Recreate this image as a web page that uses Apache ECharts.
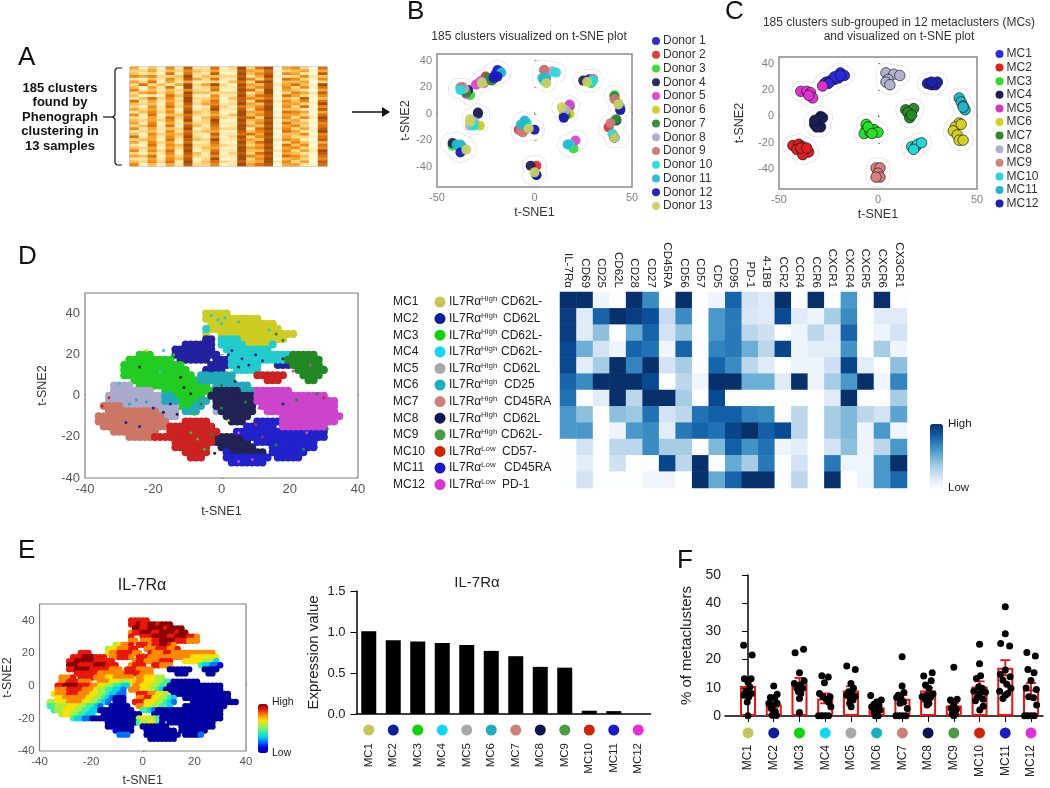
<!DOCTYPE html>
<html><head><meta charset="utf-8">
<style>html,body{margin:0;padding:0;background:#fff}#c{width:1050px;height:788px;filter:blur(0.4px)}</style>
<script src="https://cdn.jsdelivr.net/npm/echarts@6/dist/echarts.min.js"></script></head>
<body><div id="c"></div>
<script>
const FONT='"Liberation Sans",Arial,sans-serif';
const mcNames=['MC1','MC2','MC3','MC4','MC5','MC6','MC7','MC8','MC9','MC10','MC11','MC12'];
const mcDotColors=['#c5c55a','#0a1fa0','#0ad40a','#10d8f8','#a8a8a8','#18b0c0','#cc8078','#0a1450','#4a9a44','#d42408','#1a1ac8','#e030d8'];
const donorNames=['Donor 1','Donor 2','Donor 3','Donor 4','Donor 5','Donor 6','Donor 7','Donor 8','Donor 9','Donor 10','Donor 11','Donor 12','Donor 13'];
const donorColors=['#2222cc','#dd3333','#33dd33','#222255','#dd44cc','#cccc22','#338833','#aaaacc','#cc7777','#22dddd','#22bbcc','#1a1ab8','#c8d060'];
// Panel A: heat levels 0-9, one string per row band
const panelARows=[
"5141628227139379056307","3352436435228547134515","4231717328119468065208","6563349244338259123624",
"2142638537229637076316","5371525123147389044503","3734259359319548257419","4152719236228468063617",
"6242436327119739154205","3563529443338259036528","4121748116229478175316","2473629335148657043804",
"7252539247128389264617","4341628356239548055319","3162737128317469163706","5352518239228379044218",
"2463629436119558176505","6171447325249468055317","3252738147328739263629","4353629239119458045208",
"5161526338228369174416","3472718427129548056307","6252439136339279263518","2341627345118468075219",
"4163548228227759144606","7252639316139368053317","3451728439228549265208","5263517127119479036415",
"2172649336328358174607","4351538245119569056316","6263729137229448263529","3142618428138379054218",
"5471537326229658176407","2252648139119369045316","4363729247328459263508","6141528336129578055217"];
const panelAPalette=['#fffbe0','#fff3c4','#fee8a8','#fdd680','#fcbf58','#f7a432','#ec8a18','#db700c','#c25c08','#a04c08'];
// Panel B: cluster positions per donor
const donorPts=[
[[-19,33],[-18,32],[-29,0],[1,-46],[44,3],[41,-18],[18,6],[28,26],[-20,30]],
[[-37,20],[1,-39],[-8,-12],[38,-10],[5,33],[30,26],[-25,28],[-7,-10]],
[[-33,14],[-40,-24],[-4,-10],[41,-5],[41,14],[29,23],[20,-26],[-23,26],[-42,-24]],
[[-34,18],[-42,-22],[-2,-39],[15,-2],[25,25],[42,-5],[-29,1],[-22,27]],
[[-30,22],[-27,25],[18,7],[21,-20],[-26,23],[-35,15],[-28,24]],
[[-28,-9],[18,0],[15,2],[-30,-8],[6,24],[43,8],[-25,25]],
[[-24,27],[-21,26],[41,13],[16,-1],[-35,16],[42,-4],[-22,25]],
[[-33,-9],[9,32],[16,3],[-36,19],[-31,-6],[-27,24],[7,31]],
[[-6,-14],[5,33],[41,11],[30,26],[39,-7],[-38,20],[-5,-12],[-7,-13]],
[[-38,18],[-31,-9],[-5,-6],[11,31],[18,-23],[40,-15],[30,25],[-4,-7]],
[[-17,31],[4,27],[6,27],[-40,-23],[-37,-25],[17,-23],[44,5],[-5,-5],[-7,-8],[-38,-23],[5,25]],
[[-38,-29],[0,-12],[1,-46],[-21,27],[-20,28],[15,-3],[41,-18],[44,3],[-19,28]],
[[-27,23],[-33,-4],[-35,-27],[-3,-11],[0,-44],[6,23],[14,5],[27,24],[43,7],[41,-18],[-33,-6]]];
// Panel C: cluster positions per metacluster
const mcPts=[
[[-19,33],[-17,31],[-20,29],[-22,28],[-24,27],[-26,26],[-27,25],[-22,30],[-25,25],[-19,31]],
[[-43,-22],[-40,-21],[-38,-23],[-41,-25],[-37,-26],[-35,-27],[-38,-29],[-39,-24],[-36,-24]],
[[-6,-6],[-6,-10],[-7,-13],[-4,-12],[-2,-10],[0,-12],[-5,-8],[-3,-13]],
[[-29,0],[-30,-3],[-32,-6],[-29,-8],[-31,-8],[-28,-1],[-32,-3]],
[[-39,19],[-36,19],[-34,18],[-33,14],[-35,16],[-28,23]],
[[41,-5],[39,-8],[38,-11],[40,-14],[41,-18],[43,-18],[42,-6]],
[[14,5],[18,6],[15,3],[16,-1],[17,1]],
[[4,33],[8,32],[11,31],[5,28],[4,26],[6,24]],
[[-1,-39],[1,-39],[0,-43],[1,-46],[-1,-46]],
[[17,-23],[19,-23],[20,-21],[22,-20],[18,-25]],
[[41,14],[42,11],[43,8],[44,5],[43,7]],
[[25,25],[27,24],[29,24],[30,26],[27,26]]];
const mcTsneColors=['#2a2ae0','#e02020','#28e028','#1c1c58','#e030d0','#d4d020','#2a8a2a','#b0b0d0','#d88080','#20d8d8','#20b8c8','#2020b0'];
const haloPts=mcPts.flat();
// Panel D: event map, run-length rows from y=40 down in 2.5 steps, columns from x=-36 in 1.5 steps
const tsneColors={a:'#cccc22',b:'#2222a0',c:'#22cc22',d:'#22cccc',e:'#aaaacc',f:'#22aabb',g:'#cc7766',h:'#222255',i:'#228822',j:'#cc2222',k:'#2222cc',l:'#cc44cc'};
const mapRows=[
"21. 5a","21. 11a","22. 13a","21. 1d 14a","21. 1a 2. 15a","21. 2b 1. 4d 9a","17. 6b 1. 5d 5a 1d","15. 8b 2. 9d",
"8. 3c 4. 9b 2. 12d 5i","6. 9c 1. 6b 1. 3b 8d 3d 7i","5. 12c 5. 4b 6d 3. 3b 6i","5. 13c 3. 4b 2. 5d 7. 6i",
"5. 14c 1. 7f 4. 6j 3. 4i","7. 13c 7f 6. 3j 5. 2i","3. 4e 1. 14c 1. 7f","3. 8e 2. 10c 5h 3f 7l",
"2. 11e 2f 6c 1. 9h 14l","2. 11e 3f 4c 2f 1. 8h 16l","1. 4g 11e 3c 2f 2. 8h 1. 15l","2. 10g 4e 1. 3f 3. 1e 7h 2. 14l",
"13g 3e 5. 3. 1. 5h 6. 12l","14g 3. 5j 4. 3h 2. 5k 11l","1. 13g 9j 6. 6k 1. 9l","3. 9g 2. 10j 3. 18k",
"6. 5g 12j 6h 16k","15. 8j 7h 1. 12k","15. 7j 2. 7h 3. 9k","17. 5j 3. 1k 7h 1. 7k","18. 3j 4. 9k 1. 5k","26. 7k"];
const speckles=[
[3,22,1],[6,18,1],[8,15,1],[10,20,1],[5,14,7],[12,17,1],[2,20,1],[-1,37,3],[0,35,3],[-3,39,3],[1,38,3],[5,36,3],[16,30,8],[18,27,8],[14,32,3],
[-24,14,7],[-12,9,7],[-18,12,3],[-17,22,3],[-14,20,2],[-21,21,2],[-22,22,0],[-11,4,7],[-9,1,7],[-15,-4,1],[-25,-2,5],[-27,-4,5],[-22,-3,5],[-20,-6,1],[-28,-13,1],[-24,-15,1],
[-17,-8,7],[-10,-6,2],[-8,-9,2],[-13,-9,7],[-6,-4,8],[-9,-18,2],[-7,-21,2],[-5,-26,2],[-3,-19,8],[-2,-28,7],[0,-6,8],[7,-3,8],[2,-12,0],[10,-14,9],[12,-20,9],[5,-18,11],
[11,-6,11],[14,-8,11],[18,-4,7],[22,-2,8],[28,1,8],[30,-1,9],[25,-18,11],[20,-14,11],[27,-12,11],[31,-16,8],[16,-24,8],[24,-26,8],[5,-32,11],[9,-31,11],[18,18,7],[26,15,11],[21,12,11],[30,14,8],[-30,6,3],[-33,-1,9],[-35,-5,9],[4,7,7],[0,5,8],[-3,12,1],[-4,17,7]];
// Panel E: IL-7Ra expression map on the same cells, a=lowest .. j=highest
const exprRows=[
"21. 5i","21. 2i 1j 2i 2j 1i 3j","22. 2j 2i 4j 1i 4j","21. 1h 2i 3j 2i 4j 1i 2j","21. 1i 2. 3i 4j 2i 3j 2i 1h","21. 2h 1. 3h 2i 4j 3i 3h",
"17. 1f 1g 2h 1i 1. 3i 1h 2i 2j 1i 1h","15. 1f 2g 3h 2i 2. 3h 3i 2h 1i","8. 3i 4. 1g 2h 4i 2h 2. 1i 3h 2i 2h 4h 5h","6. 3i 3j 3i 1. 2h 3i 1h 1. 3i 8h 3h 7g",
"5. 2i 5j 5i 5. 1h 2i 1h 3h 3i 3. 3g 2g 3f 1d","5. 3j 4i 3j 3i 3. 1h 3i 2. 2i 3h 7. 1e 2d 2c 1b","5. 2i 4j 5i 3h 1. 3i 4h 4. 6a 3. 4a","7. 6i 4h 3h 4i 3h 6. 3a 5. 2a",
"3. 3h 1i 1. 4i 3h 2g 3h 2h 1. 2h 3g 2f","3. 2h 3i 3h 2. 3h 3g 2f 2g 2h 3g 2f 2e 3a 4a","2. 2i 4j 3i 2h 2g 2f 2e 2d 1. 2h 3g 2f 2e 14a","2. 3h 4i 3h 1g 2f 2e 2d 1c 1. 3h 2g 2f 1e 1d 15a",
"1. 1g 3h 3i 3h 2g 2f 1e 2d 2c 3. 3i 2h 2g 1f 1. 15a","2. 2g 3h 3h 2g 2f 1e 1d 1c 3a 3. 2h 2i 2g 2f 1e 1d 2. 12a","2f 3g 4h 2g 2f 1e 1d 1c 1. 3a 2. 3i 3g 2f 1e 1d 1c 4. 12a","2e 3f 3g 2f 2e 1d 1c 2. 5a 2. 2h 2g 2f 2e 1d 3. 11a",
"1. 1e 2f 3g 2f 2e 2d 9a 2. 2e 1d 1c 17a","3. 1f 2g 2f 2e 2d 2. 10a 3. 18a","6. 1e 2d 2c 12a 1f 2g 2f 1e 16a","15. 8a 1e 2f 2g 1e 1a 1. 12a","15. 7a 2. 7a 3. 9a","17. 1b 4a 3. 8a 1. 7a","18. 3c 4. 9a 1. 4a 1c","26. 7a"];
const jetColors=['#0000a0','#0000f0','#0070ff','#00d8e8','#40f0a0','#a8f040','#f8e000','#ff8800','#e81808','#8c0000'];
// Panel D heat map
const heatMarkers=['IL-7Rα','CD69','CD25','CD62L','CD28','CD27','CD45RA','CD56','CD57','CD5','CD95','PD-1','4-1BB','CCR2','CCR4','CCR6','CXCR1','CXCR4','CXCR5','CXCR6','CX3CR1'];
const heatValues=[
[1,1,.08,0,1,.65,0,1,0,.08,.8,.2,.15,1,0,1,0,.6,0,1,0],
[.95,.15,.8,1,.95,.88,.25,.65,0,.6,.72,.18,.15,.9,.15,.08,.35,.65,0,.15,.15],
[.95,.15,.42,0,.52,.8,.2,.4,0,.6,.72,.28,.22,0,.08,.28,.15,.8,0,.08,.2],
[.9,.5,.2,.08,.8,.75,.06,.8,0,.68,.72,.5,.28,.92,.08,.14,.14,.62,0,.35,.08],
[.9,.14,.35,1,.68,1,.2,.35,0,.8,.65,.28,.15,0,.08,.08,.22,.92,.14,0,.42],
[.8,.65,1,1,1,.9,0,.28,.07,1,1,.5,.5,.15,1,.08,.35,.6,1,.07,.68],
[.75,0,.14,1,.28,1,1,.35,0,.9,0,0,0,0,0,0,.15,1,0,0,.35],
[.6,.42,0,.42,.38,.75,.2,.28,.75,.82,.82,.68,.65,0,.28,0,.35,.45,.28,.2,.55],
[.6,.6,0,.08,.6,.65,.14,.72,.8,.75,.92,1,.82,.9,.28,0,.35,.45,.08,.6,.07],
[0,.2,0,.28,.28,.65,.35,.35,0,.45,.82,.62,.75,.08,.14,0,.2,.42,.08,.28,.6],
[0,.14,0,.22,0,0,.92,.28,1,0,.52,.35,.72,0,.2,0,.72,.07,.07,.6,1],
[0,.2,0,0,0,.07,.07,0,1,.52,.8,1,1,0,.28,0,1,0,.08,.6,.78]];
const bluesRamp=['#fbfdff','#e6eff9','#c6dbef','#9ecae1','#6baed6','#4292c6','#2171b5','#08519c','#08306b'];
const tableLevel=['High','High','High','High','High','High','High','High','High','Low','Low','Low'];
const tableMarker=['CD62L-','CD62L','CD62L-','CD62L-','CD62L','CD25','CD45RA','CD62L','CD62L-','CD57-','CD45RA','PD-1'];
// Panel E bars
const expressionValues=[1.01,.9,.885,.865,.84,.77,.705,.575,.565,.04,.035,0];
// Panel F
const pctMeans=[10.6,4.1,11.8,6.2,9,3,6.1,9,3.7,10.5,17.1,9.4];
const pctErrHigh=[13,5.5,13.5,8,10.5,4,7.5,10,4.5,12.3,19.8,11.7];
const pctErrLow=[8.5,3,10,4.5,7.5,2,4.5,8,3,8.8,14.4,7.2];
const pctDots=[
[[-.17,25.1],[.16,21.6],[-.14,13.2],[.12,13.2],[0,12],[.07,10.3],[-.09,8.6],[.13,8],[-.16,7.4],[.03,6.8],[-.03,5],[0,.1]],
[[0,10.6],[.13,7.7],[-.13,6.6],[.04,6.6],[-.19,4.5],[.13,4.5],[-.03,3.9],[-.1,2.7],[.06,1.5],[-.06,.3],[.1,.2]],
[[-.17,22.4],[.16,23.7],[0,15.3],[.18,12.5],[-.2,11.5],[.03,11],[-.1,9.8],[.13,9.8],[-.04,8.6],[.05,8],[0,6.2],[0,1.2]],
[[-.13,14.3],[.12,13.8],[-.03,11.8],[-.22,8],[-.09,6.8],[.19,6.8],[.04,5.9],[.13,5],[.22,3.3],[-.26,.1],[-.13,.1],[0,.1],[.13,.1]],
[[-.16,17.7],[.17,16.5],[0,11.5],[.1,9.8],[-.09,8.6],[.04,8],[-.16,7.4],[.17,7],[-.03,6.2],[.08,5.7],[-.05,4.5],[.01,3.3]],
[[-.23,7.3],[.18,5.7],[0,5],[-.1,4.2],[.09,3.7],[-.19,3.3],[0,2.7],[.13,2.1],[-.1,1.5],[0,.7],[-.06,.1],[.06,.1]],
[[-.01,21],[-.01,10.6],[.06,8.3],[-.16,7.4],[-.05,6.2],[-.22,6.6],[.04,5],[-.09,4.5],[.19,2.7],[-.25,.1],[-.12,.1],[.01,.1],[.14,.1]],
[[-.17,14.2],[.16,15.3],[.12,12.5],[-.1,11],[.03,9.8],[.19,7.8],[-.04,7.4],[-.23,6.8],[.09,6.6],[-.1,5.7],[.03,4.5],[-.04,3.9]],
[[0,17.3],[-.13,5.7],[.13,5.9],[0,3.9],[-.1,2.7],[.1,2.4],[0,1.5],[-.06,.7],[.06,.7],[0,.1]],
[[0,25.4],[0,18.5],[.04,14.3],[-.12,13.3],[-.03,10.4],[-.22,8.8],[.1,9.8],[.23,8.4],[.01,8],[-.09,6.6],[.14,5.9],[-.16,5.4],[.14,3.5],[.01,2.1]],
[[0,38.7],[0,29.2],[-.18,25.7],[.17,24.8],[0,16.3],[-.19,14.7],[.19,13.9],[-.09,12.7],[.06,11.3],[-.22,8.8],[.22,9.8],[.09,8],[0,7.4],[-.09,6.2]],
[[-.16,22.5],[.17,21.3],[-.12,16.5],[.12,15.3],[0,12.6],[-.19,9.9],[.21,9.4],[-.09,6.8],[.1,6.5],[.22,3.9],[-.25,.1],[-.13,.1],[0,.1],[.13,.1]]];

function decode(rows){const out=[];rows.forEach((r,j)=>{let col=0;r.split(' ').forEach(t=>{const n=parseInt(t),ch=t[t.length-1];for(let k=0;k<n;k++){if(ch!=='.')out.push({x:-36+1.5*col,y:40-2.5*j,ch});col++;}});});return out;}

const grids=[
{left:130,top:67,width:197,height:99,show:true,borderColor:'#999',borderWidth:1},
{left:437,top:54,width:195,height:133,show:true,borderColor:'#8a8a8a',borderWidth:1.5},
{left:779,top:57,width:198,height:132,show:true,borderColor:'#8a8a8a',borderWidth:1.5},
{left:85,top:293,width:273,height:185,show:true,borderColor:'#808080',borderWidth:1.2},
{left:560,top:292,width:347,height:196},
{left:38,top:604,width:208,height:149,show:true,borderColor:'#808080',borderWidth:1.2},
{left:356.5,top:591,width:294,height:123},
{left:725,top:575,width:318,height:141}];
function tsneX(g,min,max,ticks,name,gap,fs,col){return {gridIndex:g,type:'value',min,max,name,nameLocation:'middle',nameGap:gap,nameTextStyle:{fontFamily:FONT,fontSize:12.5,color:'#333'},
 axisLine:{show:false},splitLine:{show:false},axisTick:{show:true,inside:true,length:2,lineStyle:{color:'#888'},customValues:ticks},
 axisLabel:{fontFamily:FONT,fontSize:fs,color:col,margin:5,customValues:ticks,showMinLabel:true,showMaxLabel:true}};}
const tsneY=tsneX;
const xAxes=[
{gridIndex:0,type:'category',data:panelARows[0].split('').map((_,i)=>i),axisLine:{show:false},axisTick:{show:false},axisLabel:{show:false}},
tsneX(1,-50,50,[-50,0,50],'t-SNE1',19,11,'#808080'),
tsneX(2,-50,50,[-50,0,50],'t-SNE1',19,11,'#808080'),
tsneX(3,-40,40,[-40,-20,0,20,40],'t-SNE1',27,13,'#555'),
{gridIndex:4,type:'category',position:'top',data:heatMarkers,axisLine:{show:false},axisTick:{show:false},axisLabel:{rotate:90,fontFamily:FONT,fontSize:11.6,color:'#222',margin:4,interval:0}},
tsneX(5,-40,40,[-40,-20,0,20,40],'t-SNE1',23,11.5,'#555'),
{gridIndex:6,type:'category',data:mcNames,axisLine:{lineStyle:{color:'#000',width:1.5}},axisTick:{alignWithLabel:true,length:6,lineStyle:{color:'#000',width:1}},axisLabel:{rotate:90,fontFamily:FONT,fontSize:11.5,color:'#222',margin:29,interval:0}},
{gridIndex:7,type:'value',min:-.895,max:11.467,splitLine:{show:false},axisLine:{onZero:false,lineStyle:{color:'#000',width:1.5}},axisTick:{length:6,lineStyle:{color:'#000',width:1},customValues:[0,1,2,3,4,5,6,7,8,9,10,11]},
 axisLabel:{fontFamily:FONT,fontSize:12,color:'#222',margin:29,rotate:90,customValues:[0,1,2,3,4,5,6,7,8,9,10,11],formatter:v=>mcNames[v]}}];
const yAxes=[
{gridIndex:0,type:'category',inverse:true,data:panelARows.map((_,i)=>i),axisLine:{show:false},axisTick:{show:false},axisLabel:{show:false}},
tsneY(1,-55,45,[-40,-20,0,20,40],'t-SNE2',21,11,'#808080'),
tsneY(2,-55,45,[-40,-20,0,20,40],'t-SNE2',33,11,'#808080'),
tsneY(3,-40,50,[-40,-20,0,20,40],'t-SNE2',36,13,'#555'),
{gridIndex:4,type:'category',inverse:true,data:mcNames,axisLine:{show:false},axisTick:{show:false},axisLabel:{show:false}},
tsneY(5,-40,50,[-40,-20,0,20,40],'t-SNE2',25,11.5,'#555'),
{gridIndex:6,type:'value',min:0,max:1.5,interval:.5,name:'Expression value',nameLocation:'middle',nameGap:35,nameTextStyle:{fontFamily:FONT,fontSize:15,color:'#222'},splitLine:{show:false},axisLine:{show:true,lineStyle:{color:'#000',width:1.5}},axisTick:{show:true,length:6,lineStyle:{color:'#000',width:1}},axisLabel:{fontFamily:FONT,fontSize:13,color:'#222',margin:11,formatter:v=>v.toFixed(1)}},
{gridIndex:7,type:'value',min:0,max:50,interval:10,offset:-6,name:'% of metaclusters',nameLocation:'middle',nameGap:37,nameTextStyle:{fontFamily:FONT,fontSize:15,color:'#222'},splitLine:{show:false},axisLine:{show:true,lineStyle:{color:'#000',width:1.5}},axisTick:{show:true,length:6,lineStyle:{color:'#000',width:1}},axisLabel:{fontFamily:FONT,fontSize:14,color:'#222',margin:10}}];

const series=[];
const aIdx=series.length;
series.push({type:'heatmap',xAxisIndex:0,yAxisIndex:0,data:panelARows.flatMap((r,j)=>r.split('').map((d,i)=>[i,j,+d]))});
[1,2].forEach(g=>{
 series.push({type:'scatter',xAxisIndex:g,yAxisIndex:g,data:haloPts,symbolSize:21,itemStyle:{color:'#e2e2ea',opacity:1},silent:true,z:1});
 series.push({type:'scatter',xAxisIndex:g,yAxisIndex:g,data:haloPts,symbolSize:19.5,itemStyle:{color:'#fff',opacity:1},silent:true,z:1});
});
donorNames.forEach((n,i)=>series.push({type:'scatter',name:n,xAxisIndex:1,yAxisIndex:1,data:donorPts[i],symbolSize:10,itemStyle:{color:donorColors[i],opacity:.95},z:2}));
mcNames.forEach((n,i)=>series.push({type:'scatter',name:n,xAxisIndex:2,yAxisIndex:2,data:mcPts[i],symbolSize:10.5,itemStyle:{color:mcTsneColors[i],opacity:1,borderColor:'rgba(20,20,20,.65)',borderWidth:1},z:2}));
const cells=decode(mapRows);
Object.keys(tsneColors).forEach(ch=>series.push({type:'scatter',xAxisIndex:3,yAxisIndex:3,symbolSize:8,itemStyle:{color:tsneColors[ch],opacity:1},data:cells.filter(c=>c.ch===ch).map(c=>[c.x,c.y])}));
const colorKeys=Object.keys(tsneColors);
series.push({type:'scatter',xAxisIndex:3,yAxisIndex:3,symbolSize:3,z:3,data:speckles,itemStyle:{opacity:1,color:p=>tsneColors[colorKeys[p.value[2]]]}});
const hIdx=series.length;
series.push({type:'heatmap',xAxisIndex:4,yAxisIndex:4,data:heatValues.flatMap((r,j)=>r.map((v,i)=>[i,j,v]))});
const eIdx=series.length;
const levels='abcdefghij';
series.push({type:'scatter',xAxisIndex:5,yAxisIndex:5,symbolSize:6.4,itemStyle:{opacity:1},data:decode(exprRows).map(c=>[c.x,c.y,levels.indexOf(c.ch)])});
series.push({type:'bar',xAxisIndex:6,yAxisIndex:6,data:expressionValues,barWidth:15,itemStyle:{color:'#000'}});
series.push({type:'scatter',xAxisIndex:6,yAxisIndex:6,clip:false,symbolSize:11,data:mcDotColors.map((c,i)=>({value:[i,-.195],itemStyle:{color:c,opacity:1}}))});
series.push({type:'bar',xAxisIndex:7,yAxisIndex:7,barWidth:16,data:pctMeans.map((v,i)=>[i,v]),itemStyle:{color:'rgba(255,255,255,0)',borderColor:'#f01010',borderWidth:2}});
series.push({type:'custom',xAxisIndex:7,yAxisIndex:7,data:pctMeans.map((_,i)=>[i,pctErrLow[i],pctErrHigh[i]]),z:3,
 renderItem:(p,api)=>{const a=api.coord([api.value(0),api.value(1)]),b=api.coord([api.value(0),api.value(2)]),w=5;const st={stroke:'#f01010',lineWidth:1.8};
  return {type:'group',children:[{type:'line',shape:{x1:a[0],y1:a[1],x2:b[0],y2:b[1]},style:st},{type:'line',shape:{x1:a[0]-w,y1:a[1],x2:a[0]+w,y2:a[1]},style:st},{type:'line',shape:{x1:b[0]-w,y1:b[1],x2:b[0]+w,y2:b[1]},style:st}]};}});
series.push({type:'scatter',xAxisIndex:7,yAxisIndex:7,clip:false,z:4,symbolSize:7,itemStyle:{color:'#000',opacity:1},data:pctDots.flatMap((l,i)=>l.map(d=>[i+d[0],d[1]]))});
series.push({type:'scatter',xAxisIndex:7,yAxisIndex:7,clip:false,symbolSize:11,data:mcDotColors.map((c,i)=>({value:[i,-6],itemStyle:{color:c,opacity:1}}))});

function txt(x,y,text,font,fill,align){return {type:'text',silent:true,style:{x,y,text,font:font+' '+FONT,fill:fill||'#222',textAlign:align||'left',textVerticalAlign:'middle'}};}
const g=[];
[['A',18,58],['B',407,12],['C',725,12],['D',18,257],['E',18,551],['F',677,561]].forEach(l=>g.push(txt(l[1],l[2],l[0],'26px','#111')));
['185 clusters','found by','Phenograph','clustering in','13 samples'].forEach((t,i)=>g.push(txt(60,[88,102,117,131,146][i],t,'bold 13px','#111','center')));
g.push({type:'polyline',silent:true,shape:{points:[[122,68],[117,68],[115,70],[115,115],[113,117],[115,119],[115,163],[117,165],[122,165]]},style:{stroke:'#111',lineWidth:1.2,fill:null}});
g.push({type:'line',silent:true,shape:{x1:103,y1:117,x2:113,y2:117},style:{stroke:'#111',lineWidth:1.2}});
g.push({type:'line',silent:true,shape:{x1:352,y1:112,x2:384,y2:112},style:{stroke:'#111',lineWidth:1.5}});
g.push({type:'polygon',silent:true,shape:{points:[[382,107],[390,112],[382,117]]},style:{fill:'#111'}});
g.push(txt(529,37,'185 clusters visualized on t-SNE plot','12px','#333','center'));
g.push(txt(899,23,'185 clusters sub-grouped in 12 metaclusters (MCs)','12px','#333','center'));
g.push(txt(899,37,'and visualized on t-SNE plot','12px','#333','center'));
const secondX={'CD62L-':501,'CD62L':503,'CD25':504,'CD45RA':504,'CD57-':502,'PD-1':502};
mcNames.forEach((n,i)=>{const y=302+16.6*i;
 g.push(txt(393,y,n,'12px','#222'));
 g.push({type:'circle',silent:true,shape:{cx:440,cy:y,r:5.5},style:{fill:mcDotColors[i]}});
 g.push(txt(449,y,'IL7Rα','12px','#222'));
 g.push(txt(481,y-3,tableLevel[i],'8px','#333'));
 g.push(txt(secondX[tableMarker[i]],y,tableMarker[i],'12px','#222'));
});
g.push(txt(948,424,'High','11.5px','#222'));g.push(txt(948,488,'Low','11.5px','#222'));
g.push(txt(142,586,'IL-7Rα','16px','#222','center'));
g.push(txt(477,583,'IL-7Rα','15px','#222','center'));
g.push(txt(272,702,'High','10.5px','#222'));g.push(txt(272,753,'Low','10.5px','#222'));

const option={animation:false,backgroundColor:'#fff',textStyle:{fontFamily:FONT},grid:grids,xAxis:xAxes,yAxis:yAxes,series,graphic:g,
 visualMap:[
 {type:'continuous',show:false,seriesIndex:aIdx,min:0,max:9,inRange:{color:panelAPalette}},
 {type:'continuous',show:true,seriesIndex:hIdx,min:0,max:1,left:915,top:409,itemWidth:13,itemHeight:65,text:null,calculable:false,hoverLink:false,inRange:{color:bluesRamp}},
 {type:'continuous',show:true,seriesIndex:eIdx,min:0,max:9,left:243,top:689,itemWidth:10,itemHeight:49,text:null,calculable:false,hoverLink:false,inRange:{color:jetColors}}],
 legend:[
 {data:donorNames,orient:'vertical',left:647,top:30,icon:'circle',itemWidth:8,itemHeight:8,itemGap:1.75,textStyle:{fontFamily:FONT,fontSize:12,color:'#333',padding:[0,0,0,-2]},selectedMode:false,itemStyle:{borderWidth:0}},
 {data:mcNames,orient:'vertical',left:990.5,top:43,icon:'circle',itemWidth:8,itemHeight:8,itemGap:1.6,textStyle:{fontFamily:FONT,fontSize:12,color:'#333',padding:[0,0,0,-2]},selectedMode:false,itemStyle:{borderWidth:0}}]};
const chart=echarts.init(document.getElementById('c'),null,{renderer:'canvas'});
chart.setOption(option);
</script></body></html>
